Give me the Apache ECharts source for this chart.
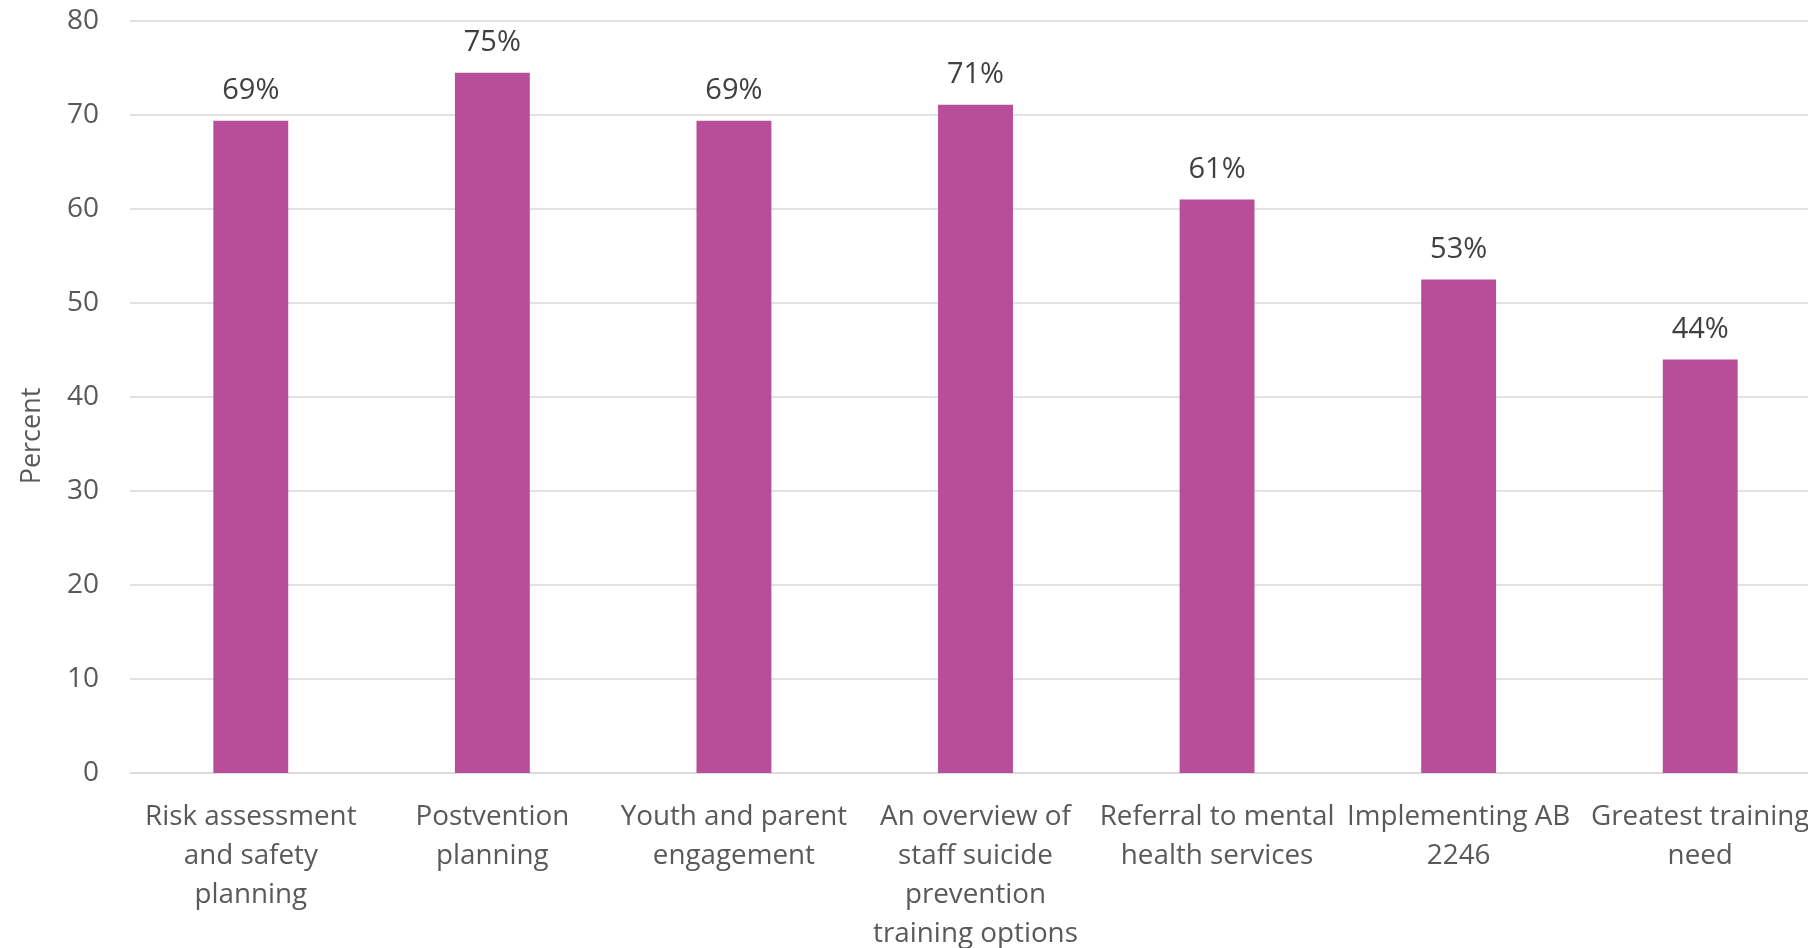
<!DOCTYPE html>
<html>
<head>
<meta charset="utf-8">
<script src="https://cdn.jsdelivr.net/npm/echarts@6/dist/echarts.min.js"></script>
<style>
html,body{margin:0;padding:0;background:#fff;}
#chart{width:1808px;height:948px;}
</style>
</head>
<body>
<div id="chart"></div>
<script>
const categories = [
  "Risk assessment\nand safety\nplanning",
  "Postvention\nplanning",
  "Youth and parent\nengagement",
  "An overview of\nstaff suicide\nprevention\ntraining options",
  "Referral to mental\nhealth services",
  "Implementing AB\n2246",
  "Greatest training\nneed"
];
const values = [69.4, 74.5, 69.4, 71.1, 61.0, 52.5, 44.0];
const valueLabels = ["69%", "75%", "69%", "71%", "61%", "53%", "44%"];
const yTicks = { min: 0, max: 80, interval: 10 };
const yAxisTitle = "Percent";

const chart = echarts.init(document.getElementById('chart'));
chart.setOption({
  animation: false,
  backgroundColor: '#ffffff',
  grid: { left: 130, right: -13, top: 21, bottom: 175, containLabel: false, outerBoundsMode: 'none' },
  xAxis: {
    type: 'category',
    data: categories,
    axisLine: { show: true, lineStyle: { color: '#d9d9d9', width: 1.5 } },
    axisTick: { show: false },
    axisLabel: {
      interval: 0,
      color: '#595959',
      fontFamily: 'Open Sans',
      fontSize: 27.8,
      lineHeight: 39,
      margin: 25
    }
  },
  yAxis: {
    type: 'value',
    min: yTicks.min,
    max: yTicks.max,
    interval: yTicks.interval,
    name: yAxisTitle,
    nameLocation: 'middle',
    nameGap: 84,
    nameTextStyle: { color: '#595959', fontFamily: 'Open Sans', fontSize: 27, padding: [0, 78, 0, 0] },
    axisLine: { show: false },
    axisTick: { show: false },
    axisLabel: { color: '#595959', fontFamily: 'Open Sans', fontSize: 28, margin: 31 },
    splitLine: { lineStyle: { color: '#d9d9d9', width: 1.5 } }
  },
  series: [{
    type: 'bar',
    data: values,
    barWidth: '31%',
    itemStyle: { color: '#B84E9A' },
    label: {
      show: true,
      position: 'top',
      distance: 15,
      color: '#404040',
      fontFamily: 'Open Sans',
      fontSize: 29,
      formatter: p => valueLabels[p.dataIndex]
    }
  }]
});
</script>
</body>
</html>
